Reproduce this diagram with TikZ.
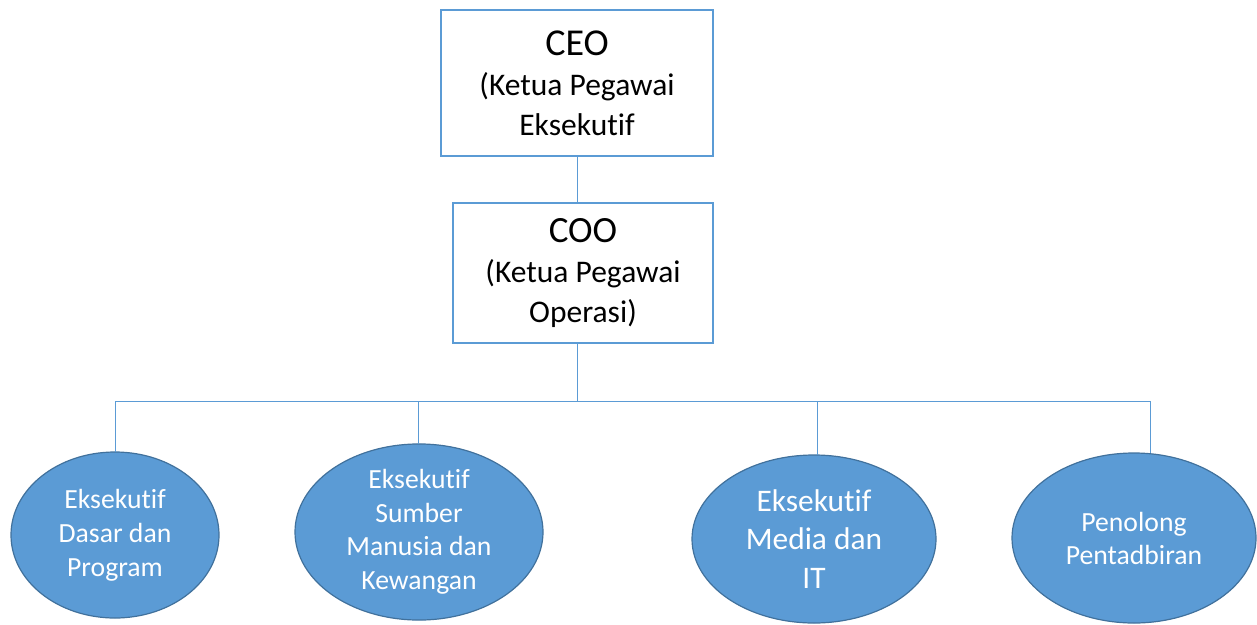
\documentclass[tikz,border=0pt]{standalone}
\usepackage{fontspec}
\setmainfont{Carlito}[Ligatures={NoCommon,NoContextual}]
\usetikzlibrary{shapes.geometric}
\definecolor{accent}{HTML}{5B9BD5}
\definecolor{accentdark}{HTML}{41719C}
\begin{document}
\begin{tikzpicture}[x=1pt,y=-1pt,
  orgbox/.style={draw=accent, line width=1.6pt, inner sep=0pt, outer sep=0pt, align=center, font=\fontsize{31.5}{40}\selectfont},
  unit/.style={ellipse, draw=accentdark, line width=1.2pt, fill=accent, text=white, inner sep=0pt, outer sep=0pt, align=center},
  link/.style={draw=accent, line width=1pt}
]
\useasboundingbox (0,0) rectangle (1257,624);

\node[orgbox, minimum width=272pt, minimum height=146pt] (ceo) at (577,83)
  {{\fontsize{38}{40}\selectfont CEO}\\(Ketua Pegawai\\Eksekutif};
\node[orgbox, minimum width=260pt, minimum height=140pt] (coo) at (583,273)
  {{\fontsize{37}{40}\selectfont COO}\\(Ketua Pegawai\\Operasi)};

\node[unit, minimum width=208pt, minimum height=166pt, font=\fontsize{27.7}{34}\selectfont] (e1) at (115,535)
  {Eksekutif\\Dasar dan\\Program};
\node[unit, minimum width=248pt, minimum height=171pt, font=\fontsize{27.7}{33.5}\selectfont] (e2) at (419,532)
  {Eksekutif\\Sumber\\Manusia dan\\Kewangan};
\node[unit, minimum width=244pt, minimum height=168pt, font=\fontsize{31.4}{38.5}\selectfont] (e3) at (814,539)
  {Eksekutif\\Media dan\\IT};
\node[unit, minimum width=244pt, minimum height=170pt, font=\fontsize{27.7}{33}\selectfont] (e4) at (1134,538)
  {Penolong\\Pentadbiran};

\coordinate (hub) at (577,401);
\coordinate (b1) at (115,401);
\coordinate (b2) at (418,401);
\coordinate (b3) at (817,401);
\coordinate (b4) at (1150,401);

\draw[link] (ceo.south) -- (ceo.south |- coo.north);
\draw[link] (ceo.south |- coo.south) -- (hub);
\draw[link] (b1) -- (b4);
\draw[link] (b1) -- (e1.north);
\draw[link] (b2) -- (b2 |- e2.north);
\draw[link] (b3) -- (b3 |- e3.north);
\draw[link] (b4) -- (b4 |- e4.north);
\end{tikzpicture}
\end{document}
